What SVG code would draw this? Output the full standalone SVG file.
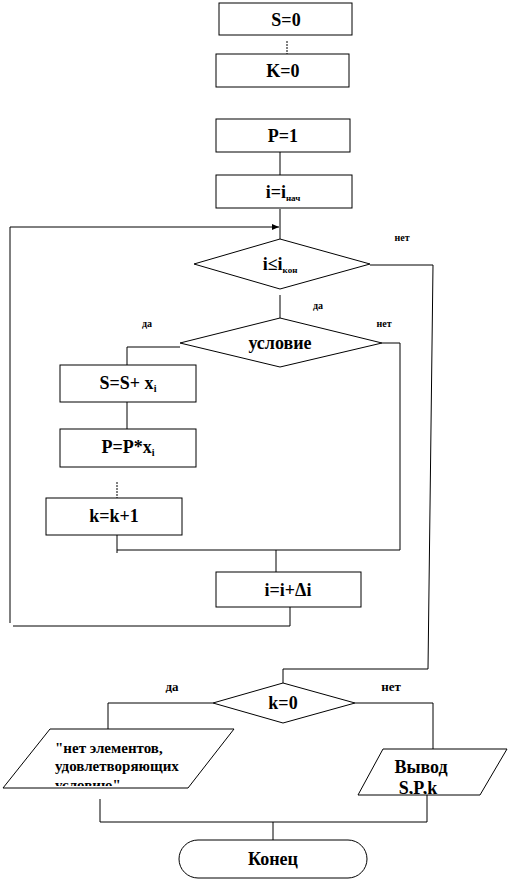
<svg xmlns="http://www.w3.org/2000/svg" width="512" height="882" viewBox="0 0 512 882">
<style>
.s{fill:#fff;stroke:#000;stroke-width:1}
.c{fill:none;stroke:#000;stroke-width:1}
text{font-family:'Times New Roman','Liberation Serif',serif;font-weight:bold;fill:#000}
.t{text-anchor:middle}
.a{text-anchor:start;font-size:15px}
.m{font-size:18px}
.l{font-size:10px}
.lb{font-size:13px}
</style>
<defs>
<marker id="ar" markerWidth="8" markerHeight="8" refX="7" refY="4" orient="auto" markerUnits="userSpaceOnUse">
<path d="M0,1 L7,4 L0,7 Z" fill="#000"/>
</marker>
<clipPath id="cl1"><rect x="0" y="725" width="260" height="61"/></clipPath>
<clipPath id="cl2"><rect x="350" y="745" width="160" height="49"/></clipPath>
</defs>
<g id="connectors">
<line class="c" x1="287" y1="41" x2="287" y2="54" stroke-dasharray="2,1"/>
<line class="c" x1="280" y1="152" x2="280" y2="175"/>
<line class="c" x1="280" y1="209" x2="280" y2="239"/>
<polyline class="c" points="290,607 290,626 13,626"/>
<polyline class="c" points="10,623 10,227 279,227" marker-end="url(#ar)"/>
<polyline class="c" points="370,265 433,265 428,669 283,669 283,683"/>
<line class="c" x1="280" y1="295" x2="280" y2="318"/>
<polyline class="c" points="180,347 127,347 127,365"/>
<polyline class="c" points="382,343 400,343 400,550 117,550"/>
<line class="c" x1="127" y1="402" x2="127" y2="429"/>
<line class="c" x1="117" y1="482" x2="117" y2="498" stroke-dasharray="2,1"/>
<line class="c" x1="117" y1="535" x2="117" y2="553"/>
<line class="c" x1="276" y1="550" x2="276" y2="572"/>
<polyline class="c" points="213,703 108,703 108,729"/>
<polyline class="c" points="355,703 433,703 433,749"/>
<polyline class="c" points="100,799 100,822 427,822 427,795"/>
<line class="c" x1="273" y1="822" x2="273" y2="840"/>
</g>
<g id="n_s0"><rect class="s" x="219" y="3" width="133" height="32"/><text class="t m" x="286" y="26">S=0</text></g>
<g id="n_k0"><rect class="s" x="216" y="54" width="133" height="33"/><text class="t m" x="283" y="77">K=0</text></g>
<g id="n_p1"><rect class="s" x="216" y="119" width="134" height="33"/><text class="t m" x="283" y="142">P=1</text></g>
<g id="n_inach"><rect class="s" x="216" y="175" width="136" height="33"/><text class="t m" x="283" y="198">i=i<tspan font-size="9px" dy="3">нач</tspan></text></g>
<g id="d_ikon"><polygon class="s" points="194,264 280,239 370,264 280,289"/><text class="t m" x="280" y="270">i≤i<tspan font-size="9px" dy="3">кон</tspan></text></g>
<g id="lab1"><text class="t l" x="402" y="241">нет</text><text class="t l" x="318" y="309">да</text><text class="t l" x="147" y="327">да</text><text class="t l" x="384" y="327">нет</text></g>
<g id="d_usl"><polygon class="s" points="180,343 280,318 382,343 280,367"/><text class="t m" x="280" y="349">условие</text></g>
<g id="n_ssx"><rect class="s" x="60" y="365" width="136" height="37"/><text class="t m" x="128" y="389">S=S+ x<tspan font-size="10px" dy="3">i</tspan></text></g>
<g id="n_ppx"><rect class="s" x="60" y="429" width="136" height="38"/><text class="t m" x="128" y="453">P=P*x<tspan font-size="10px" dy="3">i</tspan></text></g>
<g id="n_kk1"><rect class="s" x="46" y="498" width="136" height="37"/><text class="t m" x="114" y="522">k=k+1</text></g>
<g id="n_iidi"><rect class="s" x="216" y="572" width="145" height="35"/><text class="t m" x="288" y="596">i=i+Δi</text></g>
<g id="d_k0"><polygon class="s" points="213,703 283,683 355,703 283,723"/><text class="t m" x="283" y="709">k=0</text></g>
<g id="lab2"><text class="t lb" x="172" y="691">да</text><text class="t lb" x="391" y="691">нет</text></g>
<g id="p_msg"><polygon class="s" points="50,729 234,729 188,788 3,788"/>
<g clip-path="url(#cl1)"><text class="a" x="55" y="753">"нет элементов,</text><text class="a" x="55" y="771">удовлетворяющих</text><text class="a" x="55" y="790">условию"</text></g></g>
<g id="p_out"><polygon class="s" points="383,749 507,749 480,795 358,795"/>
<g clip-path="url(#cl2)"><text class="t m" x="421" y="773">Вывод</text><text class="t m" x="418" y="794">S,P,k</text></g></g>
<g id="n_end"><rect class="s" x="179" y="840" width="188" height="38" rx="19" ry="19"/><text class="t m" x="273" y="865">Конец</text></g>
</svg>
